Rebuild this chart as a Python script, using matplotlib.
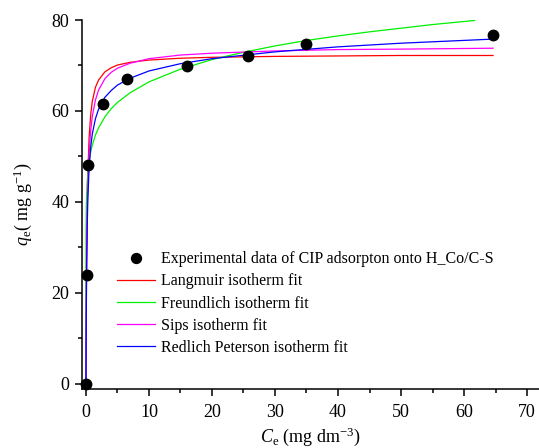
import matplotlib
matplotlib.use("Agg")
import matplotlib.pyplot as plt
from matplotlib.ticker import MultipleLocator

plt.rcParams['font.family'] = ['Liberation Serif', 'DejaVu Serif']
plt.rcParams['mathtext.fontset'] = 'custom'
plt.rcParams['mathtext.rm'] = 'Liberation Serif'
plt.rcParams['mathtext.it'] = 'Liberation Serif:italic'

# Experimental data
ce_exp = [0.0, 0.2, 0.3, 2.7, 6.5, 16.0, 25.7, 35.0, 64.6]
qe_exp = [0.0, 24.0, 48.2, 61.5, 67.0, 69.9, 72.0, 74.8, 76.8]

# Fit curves
ce_fit = [0.0, 0.02, 0.05, 0.1, 0.2, 0.3, 0.5, 0.75, 1.0, 1.5, 2.0, 3.0, 4.0,
          5.0, 7.0, 10.0, 15.0, 20.0, 30.0, 40.0, 50.0, 64.6]
q_langmuir = [0.0, 7.8, 16.7, 27.2, 39.5, 46.5, 54.3, 59.2, 62.1, 65.2, 66.8, 68.6, 69.5,
              70.1, 70.7, 71.2, 71.6, 71.8, 72.0, 72.1, 72.2, 72.2]
q_sips = [0.0, 10.5, 18.9, 27.7, 37.8, 43.8, 50.8, 55.7, 58.8, 62.4, 64.6, 67.1, 68.5,
          69.4, 70.5, 71.5, 72.3, 72.7, 73.2, 73.5, 73.6, 73.8]
q_rp = [0.0, 7.4, 15.4, 24.4, 34.8, 40.7, 47.5, 52.1, 54.9, 58.3, 60.4, 63.0, 64.5,
        65.7, 67.2, 68.8, 70.4, 71.5, 73.0, 74.1, 74.9, 75.8]

ce_freund = [0.0, 0.001, 0.01, 0.05, 0.1, 0.2, 0.3, 0.5, 0.75, 1.0, 1.5, 2.0, 3.0, 4.0,
             5.0, 7.0, 10.0, 15.0, 20.0, 25.0, 30.0, 35.0, 40.0, 45.0, 50.0, 55.0, 61.7]
q_freund = [0.0, 26.0, 32.8, 38.7, 41.5, 44.6, 46.4, 48.9, 51.0, 52.5, 54.7, 56.3, 58.7, 60.5,
            61.9, 64.0, 66.4, 69.2, 71.3, 72.9, 74.3, 75.5, 76.5, 77.4, 78.2, 79.0, 79.9]

labels = ["Experimental data of CIP adsorpton onto H_Co/C-S",
          "Langmuir isotherm fit",
          "Freundlich isotherm fit",
          "Sips isotherm fit",
          "Redlich Peterson isotherm fit"]

W, H = 539, 448
fig = plt.figure(figsize=(W / 100, H / 100), dpi=100)
ax = fig.add_axes([82 / W, (H - 389) / H, (W - 82) / W, 369 / H])

lw = 0.9
ax.plot(ce_fit, q_langmuir, color='#FF0000', lw=lw, label=labels[1], zorder=2)
ax.plot(ce_freund, q_freund, color='#00F000', lw=lw, label=labels[2], zorder=2)
ax.plot(ce_fit, q_sips, color='#FF00FF', lw=lw, label=labels[3], zorder=2)
ax.plot(ce_fit, q_rp, color='#0000FF', lw=lw, label=labels[4], zorder=2)
ax.plot(ce_exp, qe_exp, 'o', color='black', ms=7.5, label=labels[0], zorder=3,
        clip_on=False)

ax.set_xlim(-0.63, 71.9)
ax.set_ylim(-1.1, 80)

for s in ['top', 'right']:
    ax.spines[s].set_visible(False)
for s in ['left', 'bottom']:
    ax.spines[s].set_linewidth(1.1)

ax.xaxis.set_major_locator(MultipleLocator(10))
ax.xaxis.set_minor_locator(MultipleLocator(5))
ax.yaxis.set_major_locator(MultipleLocator(20))
ax.yaxis.set_minor_locator(MultipleLocator(10))
ax.tick_params(which='major', direction='out', length=5, width=1.1, labelsize=13, pad=4)
ax.tick_params(axis='x', which='major', pad=6)
ax.tick_params(which='minor', direction='out', length=3, width=1.1)

ax.set_xlabel(r'$C_\mathrm{e}$ (mg dm$^{-3}$)', fontsize=13, labelpad=3)
ax.set_ylabel(r'$q_\mathrm{e}$( mg g$^{-1}$)', fontsize=13, labelpad=13)

h, l = ax.get_legend_handles_labels()
order = [4, 0, 1, 2, 3]
ax.legend([h[i] for i in order], [l[i] for i in order], loc='upper left',
          bbox_to_anchor=(0.0766, 0.373), frameon=False, fontsize=11.5,
          borderpad=0, borderaxespad=0, handlelength=2.4, handletextpad=0.35,
          labelspacing=0.38, markerscale=0.95)

fig.savefig('out.png', dpi=100)
